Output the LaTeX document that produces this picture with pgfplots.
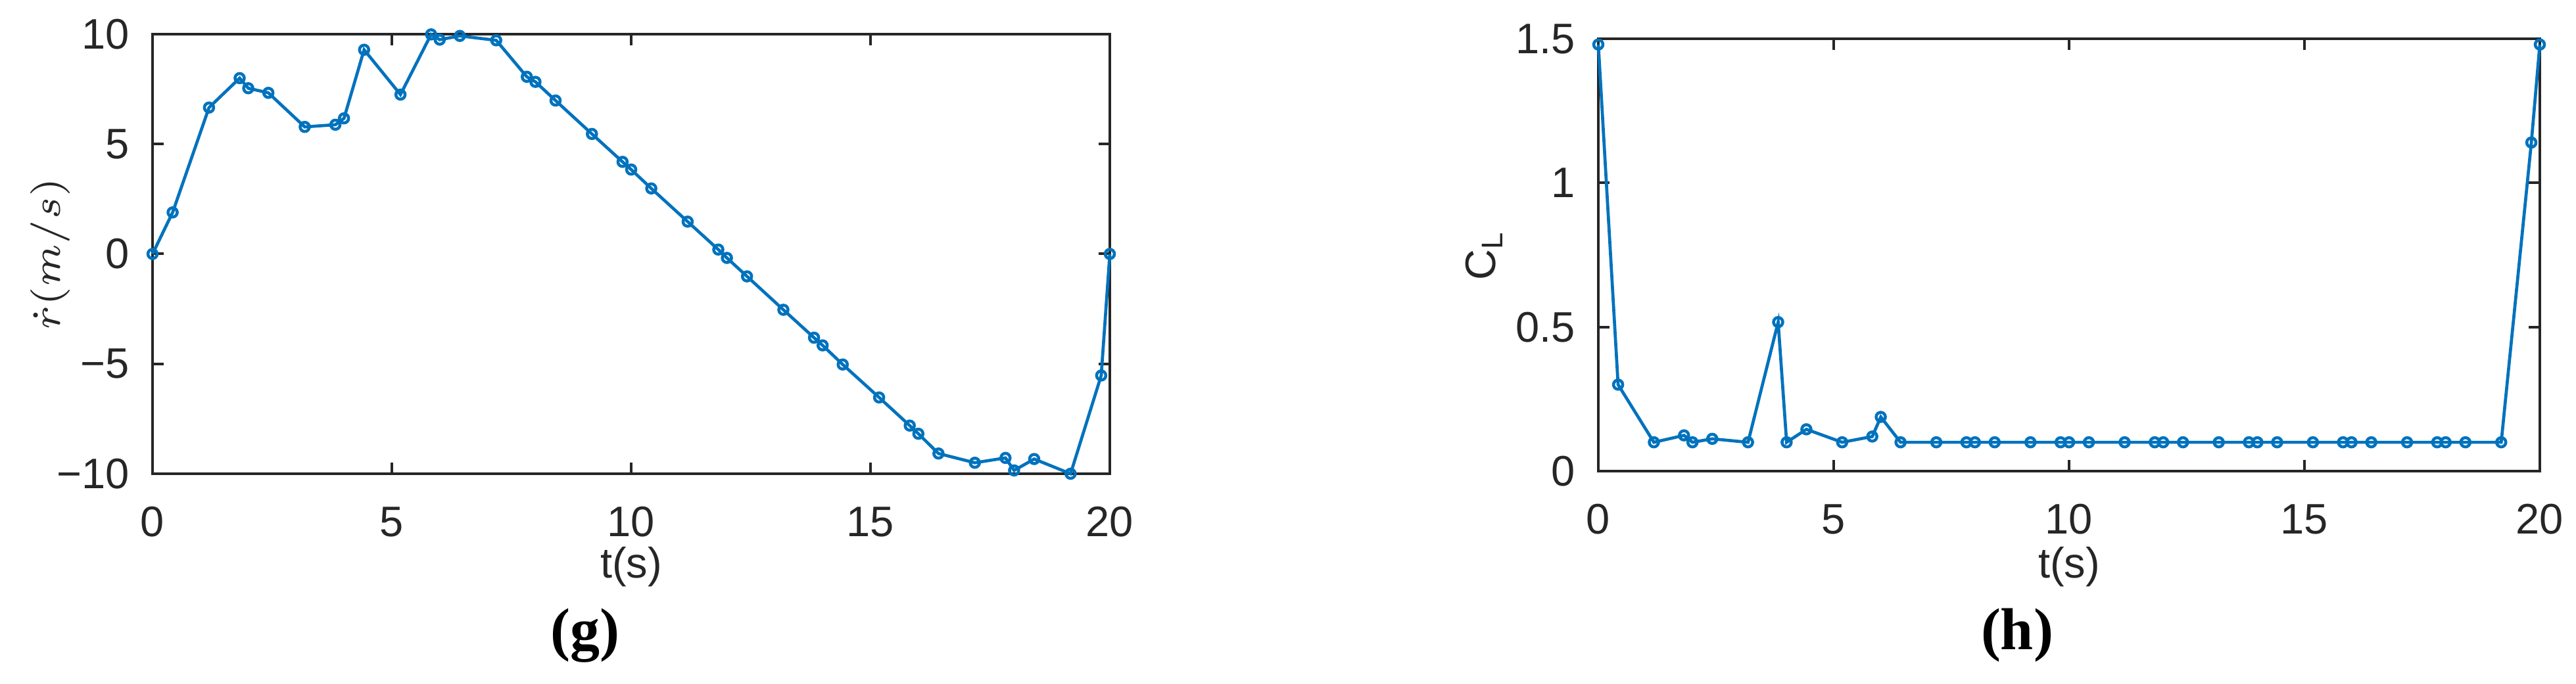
\documentclass[border=0pt]{standalone}
\usepackage{fontspec}
\setmainfont{Liberation Sans}
\newfontfamily\capfont{Liberation Serif}
\usepackage{pgfplots}
\pgfplotsset{compat=1.18}
\definecolor{axgray}{RGB}{38,38,38}
\definecolor{mblue}{RGB}{0,114,189}
\pgfplotsset{
  matlab/.style={
    scale only axis,
    axis line style={draw=axgray, line width=0.4pt},
    tick style={draw=axgray, line width=0.4pt},
    major tick length=1.7pt,
    tick align=inside,
    ticklabel style={font=\fontsize{6.5}{7.8}\selectfont, text=axgray},
    label style={font=\fontsize{6.5}{7.8}\selectfont, text=axgray},
    xticklabel shift=1.5pt,
    /pgf/number format/assume math mode=true,
    xmin=0, xmax=20,
    xtick={0,5,10,15,20},
    xlabel={t(s)},
    clip=false,
  },
  serie/.style={mblue, line width=0.47pt, mark=o, mark size=0.7pt, mark options={solid, line width=0.45pt}}
}
\begin{document}
\begin{tikzpicture}
\useasboundingbox (0,0) rectangle (391.8pt,-104.1pt);
% (g)
\begin{axis}[
  matlab,
  at={(23.2pt,-72.1pt)}, anchor=south west,
  width=145.6pt, height=66.9pt,
  ymin=-10, ymax=10,
  ytick={-10,-5,0,5,10},
  yticklabels={−10,−5,0,5,10},
  xlabel style={at={(axis description cs:0.5,-0.212)}, anchor=center},
  ylabel={$\dot{r}(m/s)$},
  ylabel style={at={(axis description cs:-0.1065,0.5)}, anchor=center},
]
\addplot[serie] coordinates {
(0,0) (0.42,1.89) (1.18,6.66) (1.82,8.0) (2.0,7.54) (2.42,7.33) (3.18,5.78)
(3.82,5.88) (4.0,6.17) (4.42,9.29) (5.18,7.25) (5.82,9.99) (6.0,9.75) (6.42,9.92)
(7.18,9.72) (7.82,8.06) (8.0,7.83) (8.42,6.98) (9.18,5.46) (9.82,4.19) (10.0,3.84)
(10.42,2.98) (11.18,1.47) (11.82,0.2) (12.0,-0.18) (12.42,-1.02) (13.18,-2.54)
(13.82,-3.81) (14.0,-4.16) (14.42,-5.03) (15.18,-6.53) (15.82,-7.81) (16.0,-8.18)
(16.42,-9.08) (17.18,-9.5) (17.82,-9.28) (18.0,-9.85) (18.42,-9.33) (19.18,-10.0)
(19.82,-5.53) (20.0,0)};
\end{axis}
% (h)
\begin{axis}[
  matlab,
  at={(243.1pt,-71.7pt)}, anchor=south west,
  width=143.2pt, height=65.8pt,
  ymin=0, ymax=1.5,
  ytick={0,0.5,1,1.5},
  yticklabels={0,0.5,1,1.5},
  xlabel style={at={(axis description cs:0.5,-0.222)}, anchor=center},
  ylabel={C\textsubscript{L}},
  ylabel style={at={(axis description cs:-0.1215,0.5)}, anchor=center},
]
\addplot[serie] coordinates {
(0,1.48) (0.42,0.30) (1.18,0.10) (1.82,0.124) (2.0,0.10) (2.42,0.112) (3.18,0.10)
(3.82,0.517) (4.0,0.10) (4.42,0.145) (5.18,0.10) (5.82,0.12) (6.0,0.188) (6.42,0.10)
(7.18,0.10) (7.82,0.10) (8.0,0.10) (8.42,0.10) (9.18,0.10) (9.82,0.10) (10.0,0.10)
(10.42,0.10) (11.18,0.10) (11.82,0.10) (12.0,0.10) (12.42,0.10) (13.18,0.10)
(13.82,0.10) (14.0,0.10) (14.42,0.10) (15.18,0.10) (15.82,0.10) (16.0,0.10)
(16.42,0.10) (17.18,0.10) (17.82,0.10) (18.0,0.10) (18.42,0.10) (19.18,0.10)
(19.82,1.14) (20.0,1.48)};
\end{axis}
\node[font=\capfont\bfseries\fontsize{9}{10}\selectfont] at (89.0pt,-96.7pt) {(g)};
\node[font=\capfont\bfseries\fontsize{9}{10}\selectfont] at (306.8pt,-96.7pt) {(h)};
\end{tikzpicture}
\end{document}
